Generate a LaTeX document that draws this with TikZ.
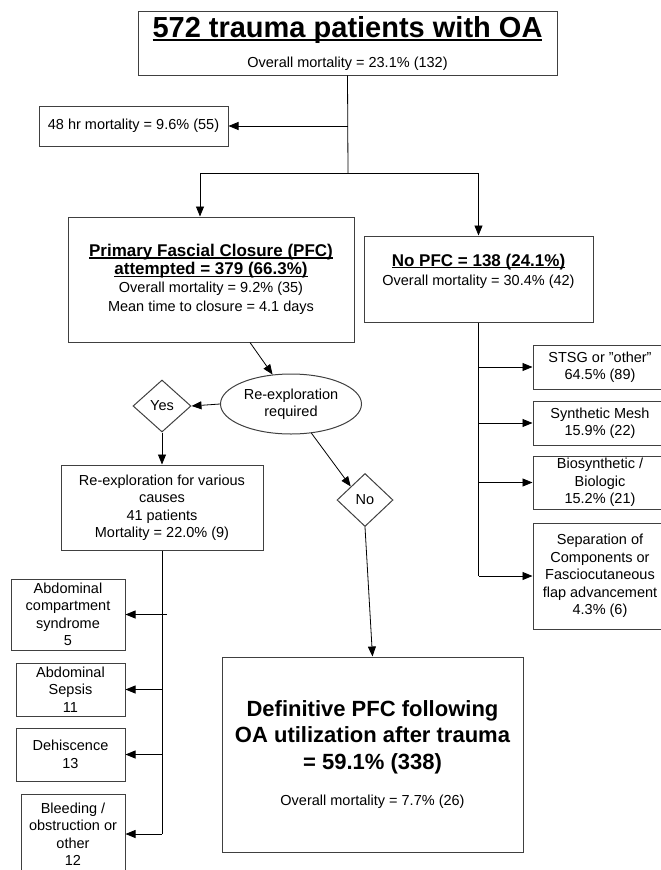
\documentclass[tikz,border=0pt]{standalone}
\usepackage{fontspec}
\setmainfont{Liberation Sans}
\usetikzlibrary{arrows.meta,shapes.geometric}

\newcommand\regtxt{\normalfont\fontsize{14.5}{17.5}\selectfont}
\newcommand\headtxt{\normalfont\fontsize{17}{18.5}\selectfont\bfseries}
\newcommand\titletxt{\normalfont\fontsize{29}{32}\selectfont\bfseries}
\newcommand\bigtxt{\normalfont\fontsize{22}{26.5}\selectfont\bfseries}
\newcommand\ulbar[1]{\setbox0=\hbox{#1}\rlap{\rule[-0.13em]{\wd0}{0.07em}}\box0}

\tikzset{
  box/.style={draw=black!75, line width=1pt, rectangle, inner sep=0pt, align=center, font=\regtxt},
  decision/.style={draw=black!75, line width=1pt, diamond, inner sep=0pt, font=\regtxt},
  oval/.style={draw=black!75, line width=1pt, ellipse, inner sep=0pt, align=center, font=\regtxt},
  link/.style={line width=0.8pt},
  arr/.style={link, -{Triangle[length=10pt,width=8pt]}}
}

\begin{document}
\begin{tikzpicture}[x=1pt,y=-1pt]
\useasboundingbox (0,0) rectangle (661,870);
\clip (0,0) rectangle (661,870);

\node [box, font=\titletxt, minimum width=419, minimum height=64] (top) at (347.5,43)
  {\ulbar{572 trauma patients with OA}\\[-2pt]{\regtxt Overall mortality = 23.1\% (132)}};
\node [box, minimum width=189, minimum height=40] (hr48) at (133.5,126) {48 hr mortality = 9.6\% (55)};

\node [box, font=\headtxt, minimum width=286, minimum height=125] (pfc) at (211,279.5)
  {\ulbar{Primary Fascial Closure (PFC)}\\\ulbar{attempted = 379 (66.3\%)}\\[-1pt]
   {\regtxt Overall mortality = 9.2\% (35)}\\[1pt]{\regtxt Mean time to closure = 4.1 days}};
\node [box, font=\headtxt, minimum width=229, minimum height=86] (nopfc) at (478.5,279)
  {\ulbar{No PFC = 138 (24.1\%)}\\[1pt]{\regtxt Overall mortality = 30.4\% (42)}\\\mbox{}};

\node [box, minimum width=134, minimum height=44] (stsg) at (600,367) {STSG or \char34 other\char34\\64.5\% (89)};
\node [box, minimum width=134, minimum height=44] (synth) at (600,423) {Synthetic Mesh\\15.9\% (22)};
\node [box, minimum width=134, minimum height=53] (bio) at (600,482.5) {Biosynthetic /\\Biologic\\15.2\% (21)};
\node [box, minimum width=134, minimum height=106] (sepcomp) at (600,576)
  {Separation of\\Components or\\Fasciocutaneous\\flap advancement\\4.3\% (6)};

\node [oval, minimum width=141, minimum height=60] (reexp) at (291,404) {Re-exploration\\required};
\node [decision, minimum width=58, minimum height=52] (yes) at (162,406) {Yes};
\node [decision, minimum width=56, minimum height=53] (no) at (365,500) {No};

\node [box, minimum width=202, minimum height=85] (causes) at (162,507.5)
  {Re-exploration for various\\causes\\41 patients\\Mortality = 22.0\% (9)};

\node [box, minimum width=114, minimum height=71] (acs) at (68,614.5) {Abdominal\\compartment\\syndrome\\5};
\node [box, minimum width=109, minimum height=53] (sepsis) at (70.5,689.5) {Abdominal\\Sepsis\\11};
\node [box, minimum width=109, minimum height=53] (dehis) at (70.5,754.5) {Dehiscence\\13};
\node [box, minimum width=104, minimum height=80] (bleed) at (73,834) {Bleeding /\\obstruction or\\other\\12};

\node [box, font=\bigtxt, minimum width=301, minimum height=195] (defin) at (372.5,754.5)
  {Definitive PFC following\\OA utilization after trauma\\= 59.1\% (338)\\[9.5pt]{\regtxt Overall mortality = 7.7\% (26)}};

\coordinate (split) at (348,173);
\coordinate (lsplit) at (200,173);
\coordinate (rsplit) at (478.5,173);
\coordinate (acstick) at (167,614.5);

\draw [link] (top.south) -- (split);
\draw [arr] (top.south |- hr48.east) -- (hr48.east);
\draw [link] (lsplit) -- (rsplit);
\draw [arr] (lsplit) -- (lsplit |- pfc.north);
\draw [arr] (rsplit) -- (nopfc.north);

\draw [link] (nopfc.south) -- (nopfc.south |- sepcomp.west);
\draw [arr] (nopfc.south |- stsg.west) -- (stsg.west);
\draw [arr] (nopfc.south |- synth.west) -- (synth.west);
\draw [arr] (nopfc.south |- bio.west) -- (bio.west);
\draw [arr] (nopfc.south |- sepcomp.west) -- (sepcomp.west);

\draw [arr] ([xshift=39pt]pfc.south) -- (reexp.122);
\draw [arr] (reexp.west) -- (yes.east);
\draw [arr] (yes.south) -- (causes.north);
\draw [arr] (reexp.-55) -- (no.north west);
\draw [arr] (no.south) -- (defin.north);

\draw [link] (causes.south) -- (causes.south |- bleed.east);
\draw [arr] (acstick) -- (acs.east);
\draw [arr] (causes.south |- sepsis.east) -- (sepsis.east);
\draw [arr] (causes.south |- dehis.east) -- (dehis.east);
\draw [arr] (causes.south |- bleed.east) -- (bleed.east);
\end{tikzpicture}
\end{document}
